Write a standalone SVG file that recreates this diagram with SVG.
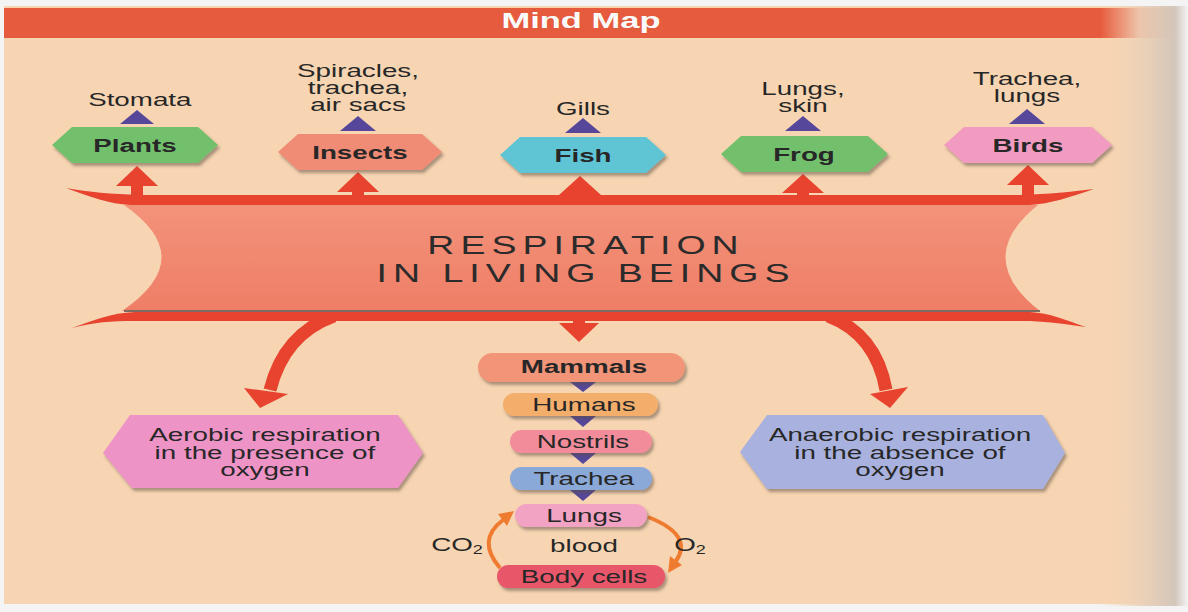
<svg xmlns="http://www.w3.org/2000/svg" width="1188" height="612" viewBox="0 0 1188 612">
<style>
.t{font-family:"Liberation Sans",Arial,Helvetica,sans-serif;fill:#272727;text-anchor:middle;font-size:18.5px;transform-box:fill-box;transform-origin:center;transform:scaleX(1.5)}
.b{font-weight:bold}
.big{font-size:25px;letter-spacing:4px;fill:#2b2b2b}
.hdr{font-size:23px;font-weight:bold;fill:#ffffff}
.tri{fill:#56479a}
.red{fill:#e8432f}
.redline{fill:none;stroke:#e8432f;stroke-width:13}
.sh{filter:url(#sh)}
.oline{fill:none;stroke:#ef7b30;stroke-width:4}
.ohead{fill:#ef7b30}
</style>
<defs>
<filter id="sh" x="-10%" y="-20%" width="125%" height="170%"><feDropShadow dx="2" dy="3" stdDeviation="1.5" flood-color="#5a4a40" flood-opacity="0.5"/></filter>
<linearGradient id="edge" x1="0" x2="1" y1="0" y2="0">
<stop offset="0" stop-color="#f7d5b2" stop-opacity="0"/>
<stop offset="0.45" stop-color="#ecd1b8" stop-opacity="0.9"/>
<stop offset="0.85" stop-color="#d3c6ba"/>
<stop offset="1" stop-color="#f3f3f3"/>
</linearGradient>
<linearGradient id="ban" x1="0" x2="0" y1="0" y2="1">
<stop offset="0" stop-color="#f3927a"/>
<stop offset="1" stop-color="#ef7e66"/>
</linearGradient>
</defs>

<rect x="0" y="0" width="1188" height="612" fill="#f4f4f4"/>
<rect x="4" y="6" width="1180" height="598" fill="#f7d5b2"/>
<path d="M4,8 H1170 Q1183,8 1183,21 V38 H4 Z" fill="#e65a3d"/>
<rect x="1100" y="6" width="88" height="600" fill="url(#edge)"/>

<g id="title"><text class="t hdr" x="581" y="28">Mind Map</text></g>

<g id="connectors">
  <!-- top band -->
  <path class="red" d="M66,188 C90,192 110,194 140,195 L1020,195 C1050,194 1070,192 1094,189 C1070,197 1050,204 1030,205 L130,205 C110,204 90,197 66,188 Z"/>
  <!-- bottom band -->
  <path class="red" d="M72,328 C95,322 110,321 135,321 L1030,321 C1050,322 1065,324 1086,327 C1065,320 1050,313 1030,312 L135,312 C110,313 95,320 72,328 Z"/>
  <!-- up arrows -->
  <rect class="red" x="131" y="184" width="12" height="14"/><polygon class="red" points="116,186 158,186 137,166"/>
  <rect class="red" x="352" y="190" width="12" height="10"/><polygon class="red" points="337,192 379,192 358,172"/>
  <rect class="red" x="574" y="193" width="12" height="8"/><polygon class="red" points="559,195 601,195 580,176"/>
  <rect class="red" x="797" y="191" width="12" height="10"/><polygon class="red" points="782,193 824,193 803,174"/>
  <rect class="red" x="1022" y="183" width="12" height="14"/><polygon class="red" points="1007,185 1049,185 1028,165"/>
  <!-- down arrows -->
  <rect class="red" x="573" y="314" width="12" height="10"/><polygon class="red" points="559,323 599,323 579,342"/>
  <path class="redline" d="M334,316 Q284,334 270,390"/>
  <polygon class="red" points="260,408 244,388 288,394"/>
  <path class="redline" d="M828,316 Q876,334 886,390"/>
  <polygon class="red" points="890,408 870,394 908,387"/>
  <!-- purple triangles -->
  <polygon class="tri" points="120,124 154,124 137,110"/>
  <polygon class="tri" points="340,131 376,131 358,116"/>
  <polygon class="tri" points="565,133 601,133 583,118"/>
  <polygon class="tri" points="785,131 821,131 803,116"/>
  <polygon class="tri" points="1009,124 1045,124 1027,109"/>
  <polygon class="tri" points="570,382 596,382 583,392"/>
  <polygon class="tri" points="570,416 596,416 583,427"/>
  <polygon class="tri" points="570,453 596,453 583,464"/>
  <polygon class="tri" points="570,490 596,490 583,501"/>
  <!-- orange arcs -->
  <path class="oline" d="M500,568 Q476,540 503,520"/>
  <polygon class="ohead" points="514,511 498,514 507,526"/>
  <path class="oline" d="M648,517 Q694,535 676,561"/>
  <polygon class="ohead" points="668,573 682,565 670,556"/>
</g>

<g id="banner">
  <path d="M124,205 L1038,205 Q972,258 1040,311 L122,311 Q200,258 124,205 Z" fill="url(#ban)"/>
  <path d="M124,311 L1040,311" stroke="#7d6a62" stroke-width="2" fill="none"/>
  <text class="t big" x="586" y="254">RESPIRATION</text>
  <text class="t big" x="586" y="282">IN LIVING BEINGS</text>
</g>

<g id="plants">
  <text class="t" x="140" y="106">Stomata</text>
  <polygon class="sh" fill="#72c06c" points="52,145 72,127 198,127 218,145 198,163 72,163"/>
  <text class="t b" x="135" y="152">Plants</text>
</g>
<g id="insects">
  <text class="t" x="358" y="77">Spiracles,</text>
  <text class="t" x="358" y="94">trachea,</text>
  <text class="t" x="358" y="111">air sacs</text>
  <polygon class="sh" fill="#f08c74" points="278,152 298,134 422,134 442,152 422,170 298,170"/>
  <text class="t b" x="360" y="159">Insects</text>
</g>
<g id="fish">
  <text class="t" x="583" y="115">Gills</text>
  <polygon class="sh" fill="#5ec5d5" points="500,155 520,137 646,137 666,155 646,173 520,173"/>
  <text class="t b" x="583" y="162">Fish</text>
</g>
<g id="frog">
  <text class="t" x="803" y="95">Lungs,</text>
  <text class="t" x="803" y="112">skin</text>
  <polygon class="sh" fill="#72c06c" points="721,154 741,136 868,136 888,154 868,172 741,172"/>
  <text class="t b" x="804" y="161">Frog</text>
</g>
<g id="birds">
  <text class="t" x="1027" y="85">Trachea,</text>
  <text class="t" x="1027" y="102">lungs</text>
  <polygon class="sh" fill="#f29bc1" points="944,145 964,127 1092,127 1112,145 1092,163 964,163"/>
  <text class="t b" x="1028" y="152">Birds</text>
</g>

<g id="aerobic">
  <polygon class="sh" fill="#ee93c5" points="103,453 130,415 398,415 423,453 398,488 132,488"/>
  <text class="t" x="265" y="441">Aerobic respiration</text>
  <text class="t" x="265" y="459">in the presence of</text>
  <text class="t" x="265" y="476">oxygen</text>
</g>
<g id="anaerobic">
  <polygon class="sh" fill="#a9b2df" points="740,452 767,415 1043,415 1065,453 1043,489 767,489"/>
  <text class="t" x="900" y="441">Anaerobic respiration</text>
  <text class="t" x="900" y="459">in the absence of</text>
  <text class="t" x="900" y="476">oxygen</text>
</g>

<g id="mammals">
  <rect class="sh" x="478" y="353" width="207" height="29" rx="14.5" fill="#f29478"/>
  <text class="t b" x="584" y="373">Mammals</text>
</g>
<g id="humans">
  <rect class="sh" x="503" y="393" width="155" height="23" rx="11.5" fill="#f3ae6c"/>
  <text class="t" x="584" y="411">Humans</text>
</g>
<g id="nostrils">
  <rect class="sh" x="510" y="430" width="142" height="23" rx="11.5" fill="#f28c9b"/>
  <text class="t" x="583" y="448">Nostrils</text>
</g>
<g id="trachea">
  <rect class="sh" x="510" y="467" width="142" height="23" rx="11.5" fill="#8aa9d8"/>
  <text class="t" x="584" y="485">Trachea</text>
</g>
<g id="lungs">
  <rect class="sh" x="515" y="504" width="132" height="23" rx="11.5" fill="#f2a3c3"/>
  <text class="t" x="584" y="522">Lungs</text>
</g>
<g id="blood"><text class="t" x="584" y="552">blood</text></g>
<g id="bodycells">
  <rect class="sh" x="497" y="565" width="168" height="23" rx="11.5" fill="#e8566a"/>
  <text class="t" x="584" y="583">Body cells</text>
</g>
<g id="gases">
  <text class="t" x="457" y="551">CO<tspan font-size="12" dy="3">2</tspan></text>
  <text class="t" x="690" y="551">O<tspan font-size="12" dy="3">2</tspan></text>
</g>
</svg>
